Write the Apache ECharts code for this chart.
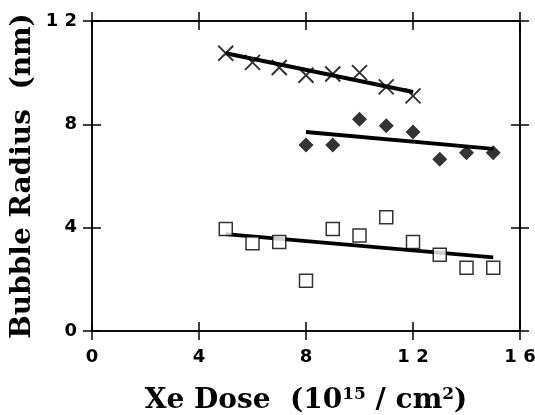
<!DOCTYPE html>
<html>
<head>
<meta charset="utf-8">
<script src="https://cdn.jsdelivr.net/npm/echarts@6/dist/echarts.min.js"></script>
<style>
  html, body { margin: 0; padding: 0; background: #fff; }
  #chart { width: 535px; height: 415px; }
</style>
</head>
<body>
<div id="chart"></div>
<script>
// dose values (10^15 / cm^2)
const doseCross = [5, 6, 7, 8, 9, 10, 11, 12];
const radiusCross = [10.75, 10.4, 10.2, 9.9, 9.95, 10.0, 9.45, 9.1];
const doseDiamond = [8, 9, 10, 11, 12, 13, 14, 15];
const radiusDiamond = [7.2, 7.2, 8.2, 7.95, 7.7, 6.65, 6.9, 6.9];
const doseSquare = [5, 6, 7, 8, 9, 10, 11, 12, 13, 14, 15];
const radiusSquare = [3.95, 3.4, 3.45, 1.95, 3.95, 3.7, 4.4, 3.45, 2.95, 2.45, 2.45];
// fitted lines (end points)
const fitCross = [[5, 10.75], [12, 9.25]];
const fitDiamond = [[8, 7.7], [15, 7.05]];
const fitSquare = [[5, 3.75], [15, 2.85]];
const xTicks = [0, 4, 8, 12, 16];
const yTicks = [0, 4, 8, 12];

function pairs(xs, ys) {
  return xs.map((x, i) => [x, ys[i]]);
}

let myChart = echarts.init(document.getElementById("chart"));
let black = "#000";
let spaced = v => String(v).split("").join(" ");

let lineStyle = { color: black, width: 1.5 };
function xAx(pos, inside, labels) {
  return {
    type: "value", position: pos, min: xTicks[0], max: xTicks[xTicks.length - 1], interval: 4,
    axisLine: { show: true, onZero: false, lineStyle: lineStyle },
    axisTick: { show: true, inside: inside, length: 9, lineStyle: lineStyle },
    axisLabel: {
      show: labels, margin: 17, formatter: spaced,
      fontFamily: "DejaVu Sans", fontWeight: "bold", fontSize: 18, color: black
    },
    splitLine: { show: false }
  };
}
function yAx(pos, inside, labels) {
  return {
    type: "value", position: pos, min: yTicks[0], max: yTicks[yTicks.length - 1], interval: 4,
    axisLine: { show: true, onZero: false, lineStyle: lineStyle },
    axisTick: { show: true, inside: inside, length: 9, lineStyle: lineStyle },
    axisLabel: {
      show: labels, margin: 15, formatter: spaced,
      fontFamily: "DejaVu Sans", fontWeight: "bold", fontSize: 18, color: black
    },
    splitLine: { show: false }
  };
}

let titleFont = { fontFamily: "DejaVu Serif", fontWeight: "bold", fontSize: 28, color: black };
let supFont = { fontFamily: "DejaVu Serif", fontWeight: "bold", fontSize: 17, color: black, verticalAlign: "bottom", padding: [0, 0, 12, 0] };

let xMain = xAx("bottom", false, true);
xMain.name = "Xe Dose  (10{sup|15} / cm{sup|2})";
xMain.nameLocation = "middle";
xMain.nameGap = 55;
xMain.nameMoveOverlap = false;
xMain.nameTextStyle = Object.assign({}, titleFont, { rich: { sup: supFont } });

let yMain = yAx("left", false, true);
yMain.name = "Bubble Radius  (nm)";
yMain.nameLocation = "middle";
yMain.nameGap = 55;
yMain.nameMoveOverlap = false;
yMain.nameTextStyle = titleFont;

let option = {
  animation: false,
  grid: { left: 92, right: 15, top: 21, bottom: 84, containLabel: false, outerBoundsMode: "none" },
  xAxis: [xMain, xAx("bottom", true, false), xAx("top", false, false), xAx("top", true, false)],
  yAxis: [yMain, yAx("left", true, false), yAx("right", false, false), yAx("right", true, false)],
  series: [
    {
      type: "scatter", data: pairs(doseCross, radiusCross),
      symbol: "path://M0,0L10,10M10,0L0,10", symbolSize: 15,
      itemStyle: { color: "none", borderColor: black, borderWidth: 2 }, z: 3
    },
    {
      type: "scatter", data: pairs(doseDiamond, radiusDiamond),
      symbol: "diamond", symbolSize: 15,
      itemStyle: { color: black }, z: 3
    },
    {
      type: "scatter", data: pairs(doseSquare, radiusSquare),
      symbol: "rect", symbolSize: 13,
      itemStyle: { color: "#fff", borderColor: black, borderWidth: 1.5 }, z: 3
    },
    { type: "line", data: fitCross, symbol: "none", lineStyle: { color: black, width: 4 }, z: 2 },
    { type: "line", data: fitDiamond, symbol: "none", lineStyle: { color: black, width: 4 }, z: 2 },
    { type: "line", data: fitSquare, symbol: "none", lineStyle: { color: black, width: 4 }, z: 2 }
  ]
};
myChart.setOption(option);
</script>
</body>
</html>
